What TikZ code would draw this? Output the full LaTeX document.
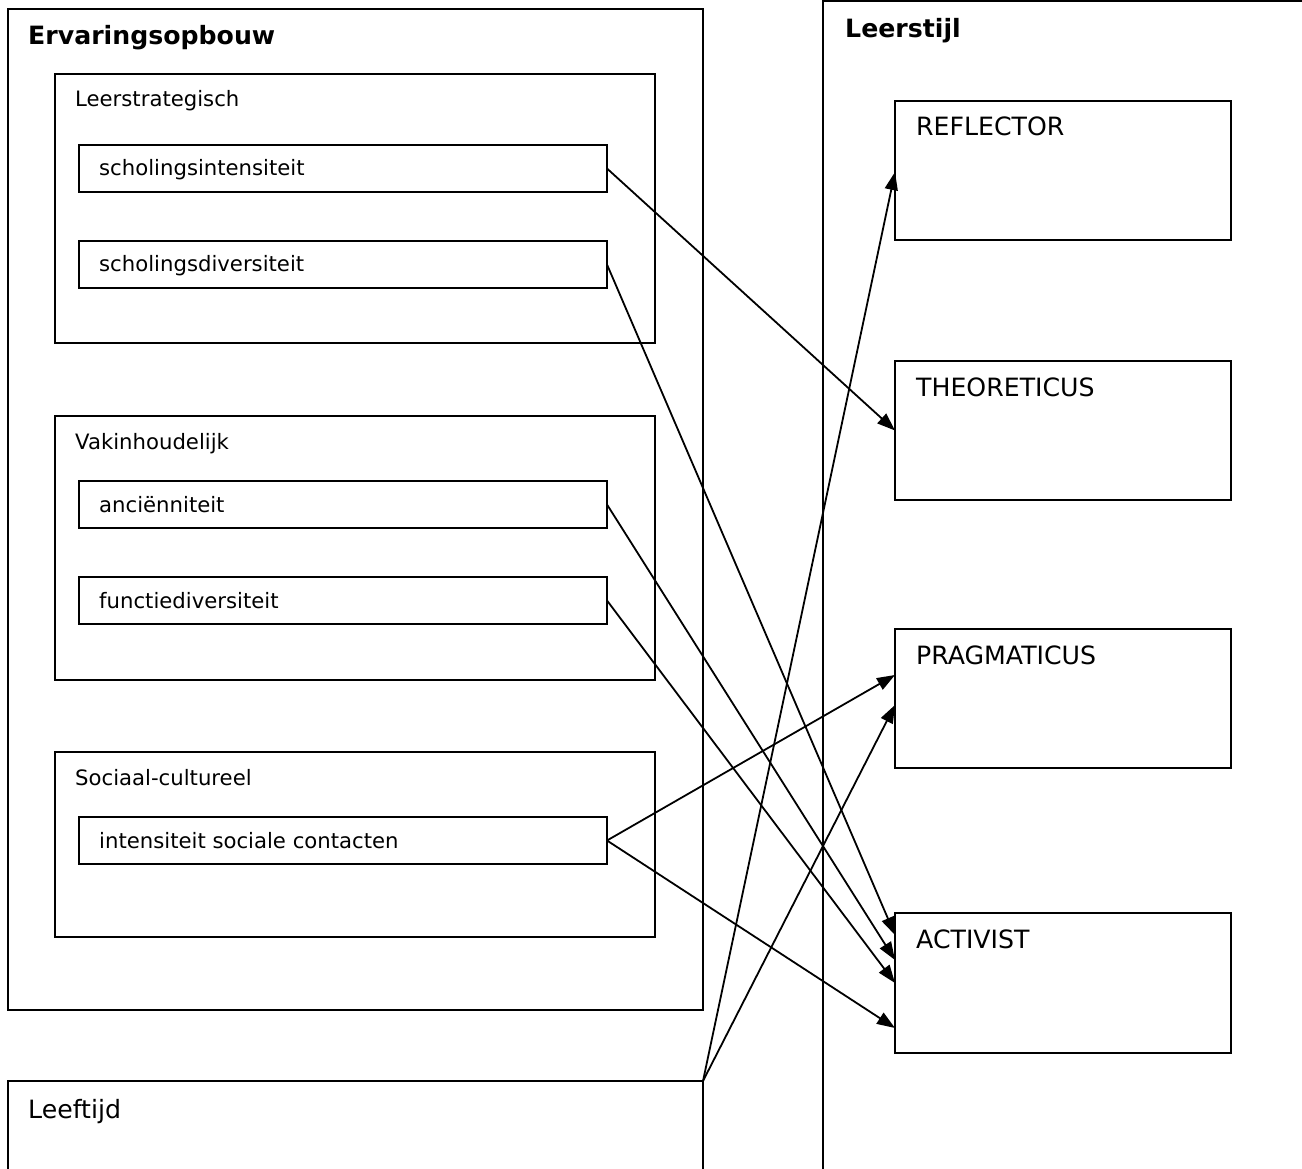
\documentclass[tikz,border=0pt]{standalone}
\usepackage{fontspec}
\setmainfont{DejaVu Sans}
\usetikzlibrary{arrows.meta}
\begin{document}
\begin{tikzpicture}[x=1pt,y=-1pt,
  box/.style={draw=black,line width=2pt,inner sep=0pt,outer sep=0pt,anchor=north west},
  small/.style={font=\fontsize{21.2}{25}\selectfont,anchor=base west,inner sep=0pt},
  large/.style={font=\fontsize{25.2}{30}\selectfont,anchor=base west,inner sep=0pt},
  title/.style={font=\fontsize{25.2}{30}\selectfont\bfseries,anchor=base west,inner sep=0pt},
  conn/.style={line width=1.8pt,-{Triangle[length=18pt,width=13pt]}}]
\useasboundingbox (0,0) rectangle (1302,1169);
\fill[white] (0,0) rectangle (1302,1169);
\begin{scope}
\clip (0,0) rectangle (1302,1169);
% outer frames
\node[box,minimum width=695pt,minimum height=1001pt] (erv) at (8,9) {};
\node[box,minimum width=500pt,minimum height=1200pt] (stijl) at (823,1) {};
\node[box,minimum width=695pt,minimum height=150pt] (leef) at (8,1081) {};
% groups
\node[box,minimum width=600pt,minimum height=269pt] (ls) at (55,74) {};
\node[box,minimum width=600pt,minimum height=264pt] (vi) at (55,416) {};
\node[box,minimum width=600pt,minimum height=185pt] (sc) at (55,752) {};
% items
\node[box,minimum width=528pt,minimum height=47pt] (si) at (79,145) {};
\node[box,minimum width=528pt,minimum height=47pt] (sd) at (79,241) {};
\node[box,minimum width=528pt,minimum height=47pt] (an) at (79,481) {};
\node[box,minimum width=528pt,minimum height=47pt] (fd) at (79,577) {};
\node[box,minimum width=528pt,minimum height=47pt] (isc) at (79,817) {};
% styles
\node[box,minimum width=336pt,minimum height=139pt] (refl) at (895,101) {};
\node[box,minimum width=336pt,minimum height=139pt] (theo) at (895,361) {};
\node[box,minimum width=336pt,minimum height=139pt] (prag) at (895,629) {};
\node[box,minimum width=336pt,minimum height=140pt] (act) at (895,913) {};
% texts
\node[title] (t1) at (28,45) {Ervaringsopbouw};
\node[title] (t2) at (845,38) {Leerstijl};
\node[small] (t3) at (75,107) {Leerstrategisch};
\node[small] (t4) at (75,449) {Vakinhoudelijk};
\node[small] (t5) at (75,785) {Sociaal-cultureel};
\node[small] (t6) at (99,176) {scholingsintensiteit};
\node[small] (t7) at (99,272) {scholingsdiversiteit};
\node[small] (t8) at (99,512) {anciënniteit};
\node[small] (t9) at (99,608) {functiediversiteit};
\node[small] (t10) at (99,848) {intensiteit sociale contacten};
\node[large] (t11) at (916,136) {REFLECTOR};
\node[large] (t12) at (916,396) {THEORETICUS};
\node[large] (t13) at (916,664) {PRAGMATICUS};
\node[large] (t14) at (916,948) {ACTIVIST};
\node[large] (t15) at (28,1118) {Leeftijd};
% connector end points
\coordinate (refIn) at (895,172);
\coordinate (pragA) at (895,675);
\coordinate (pragB) at (895,705);
\coordinate (actA) at (895,935);
\coordinate (actB) at (895,960);
\coordinate (actD) at (895,1028);
% connectors
\draw[conn] (si.east) -- (theo.west);
\draw[conn] (sd.east) -- (actA);
\draw[conn] (an.east) -- (actB);
\draw[conn] (fd.east) -- (act.west);
\draw[conn] (isc.east) -- (pragA);
\draw[conn] (isc.east) -- (actD);
\draw[conn] (leef.north east) -- (refIn);
\draw[conn] (leef.north east) -- (pragB);
\end{scope}
\end{tikzpicture}
\end{document}
